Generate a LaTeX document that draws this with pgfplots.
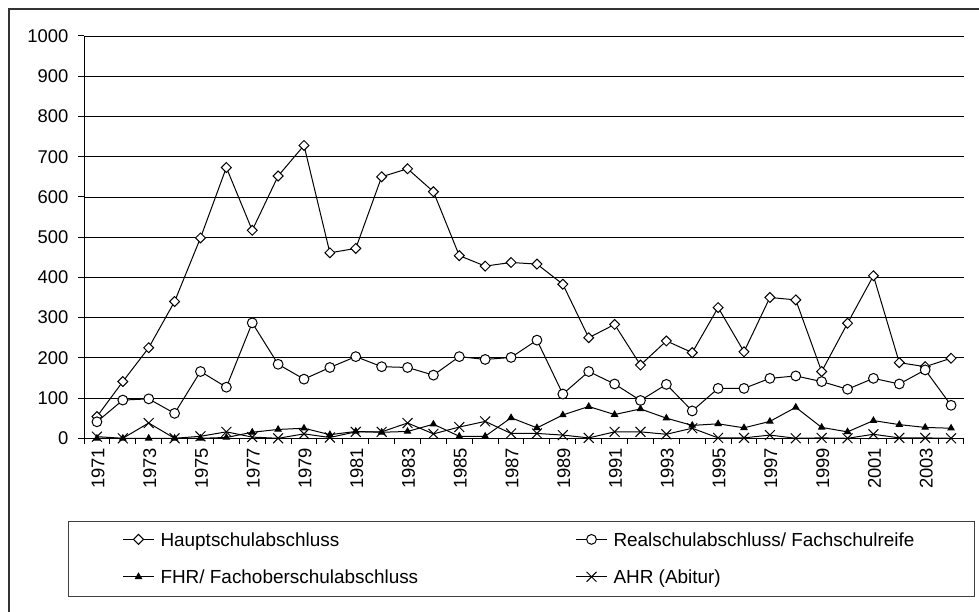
\documentclass[border=0pt]{standalone}
\usepackage{fontspec}
\setmainfont{Liberation Sans}
\usepackage{pgfplots}
\usepackage{pgfplotstable}
\pgfplotsset{compat=1.18}
\pgfplotstableread{
year h r f a
1971 54 41 0 4
1972 141 95 0 0
1973 225 98 0 38
1974 340 62 0 0
1975 498 166 0 5
1976 673 127 2 16
1977 517 287 15 3
1978 652 184 22 0
1979 728 147 25 11
1980 461 176 9 2
1981 472 203 17 16
1982 650 178 15 16
1983 670 176 17 38
1984 613 157 35 11
1985 454 203 5 28
1986 428 196 5 42
1987 437 201 51 12
1988 433 244 26 12
1989 383 110 58 8
1990 250 166 79 1
1991 283 135 59 16
1992 182 94 73 16
1993 242 134 50 10
1994 213 68 32 25
1995 325 124 36 1
1996 215 124 26 1
1997 350 149 42 8
1998 344 155 77 0
1999 166 141 27 1
2000 286 122 16 0
2001 404 149 44 10
2002 188 135 34 1
2003 178 170 27 1
2004 199 82 25 0
}\data
\newcommand{\lgt}[1]{\makebox[361bp][l]{#1}}
\begin{document}
\begin{tikzpicture}[x=1bp,y=1bp]
\useasboundingbox (0,0) rectangle (979,612);
\begin{scope}
\clip (0,0) rectangle (979,612);
\draw[line width=1.2bp, black!80] (9,-20) rectangle (1000,603);
\end{scope}
\begin{axis}[
  at={(84bp,173.7bp)}, anchor=south west,
  scale only axis, width=880bp, height=402.3bp,
  xmin=1970.5, xmax=2004.5, ymin=0, ymax=1000,
  axis lines*=left,
  axis line style={line width=1bp, black},
  clip=false,
  ytick={0,100,...,1000},
  xtick={1971,1973,...,2003},
  minor xtick={1970.5,1971.5,...,2004.5},
  major tick length=6bp, minor tick length=6bp,
  tick align=outside,
  tick style={black, line width=1bp},
  major x tick style={draw=none},
  ymajorgrids,
  major grid style={black, line width=0.8bp},
  /pgf/number format/1000 sep={},
  /pgf/number format/assume math mode=true,
  tick label style={font=\fontsize{18.5}{20}\selectfont},
  xticklabel style={rotate=90, anchor=east, yshift=-1bp},
  yticklabel style={xshift=-6bp},
  every axis plot/.append style={black, line width=1bp},
  legend columns=2,
  legend style={at={(-0.01818,-0.20557)}, anchor=north west,
    draw=black!75, line width=1bp, fill=white,
    inner sep=0pt, row sep=0bp, column sep=0pt,
    nodes={inner sep=0pt, text height=24.7bp, text depth=12.7bp},
    cells={anchor=base west},
    font=\fontsize{19}{21}\selectfont},
  legend image code/.code={%
    \path (-54bp,0bp) (37bp,0bp);
    \draw[mark repeat=2,mark phase=2,#1] plot coordinates {(0bp,6.8bp) (15.5bp,6.8bp) (31bp,6.8bp)};},
]
\addplot[mark=square*, mark size=3.5bp, mark options={rotate=45, fill=white, solid, line width=1bp}] table[x=year,y=h] \data;
\addlegendentry{\lgt{Hauptschulabschluss}}
\addplot[mark=*, mark size=4.9bp, mark options={fill=white, solid, line width=1bp}] table[x=year,y=r] \data;
\addlegendentry{\lgt{Realschulabschluss/ Fachschulreife}}
\addplot[mark=triangle*, mark size=3.5bp, mark options={fill=black, solid}] table[x=year,y=f] \data;
\addlegendentry{\lgt{FHR/ Fachoberschulabschluss}}
\addplot[mark=x, mark size=7bp, mark options={solid, line width=1bp}] table[x=year,y=a] \data;
\addlegendentry{\lgt{AHR (Abitur)}}
\end{axis}
\end{tikzpicture}
\end{document}
